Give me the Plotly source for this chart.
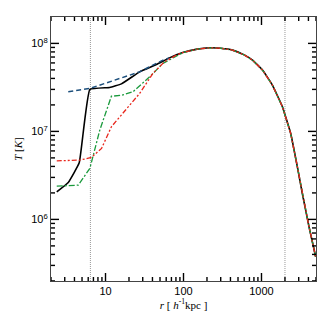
import math
import plotly.graph_objects as go

# Shared outer profile (all runs coincide beyond ~100 h^-1 kpc)
tail_r = [100, 150, 215, 300, 427, 600, 767, 1030, 1380, 1854, 2370, 2884, 3340, 4070, 4950]
tail_T = [7.91e7, 8.61e7, 8.91e7, 8.81e7, 8.39e7, 7.41e7, 6.46e7, 4.98e7, 3.36e7,
          1.91e7, 9.48e6, 3.96e6, 1.97e6, 8.24e5, 3.76e5]

# Inner parts of each run
black_r = [2.37, 3.33, 4.6, 6.3, 11.3, 16, 27.4, 45, 66]
black_T = [2.06e6, 2.63e6, 4.40e6, 3.00e7, 3.16e7, 3.47e7, 4.75e7, 5.75e7, 6.85e7]

blue_r = [3.33, 6.3, 27.4, 54.5, 66]
blue_T = [2.82e7, 3.08e7, 4.75e7, 6.46e7, 6.85e7]

green_r = [2.37, 4.47, 6.3, 8.46, 11.9, 16, 22.5, 36.8, 54.5, 80]
green_T = [2.39e6, 2.45e6, 3.80e6, 1.04e7, 2.51e7, 2.57e7, 2.82e7, 4.17e7, 5.93e7, 7.16e7]

red_r = [2.37, 4.7, 6.6, 8.9, 11.9, 18.5, 27.4, 40.6, 57, 80.7]
red_T = [4.63e6, 4.72e6, 5.06e6, 6.41e6, 1.13e7, 1.82e7, 2.70e7, 4.57e7, 6.17e7, 7.36e7]

vline_r = [6.4, 2000]

x_range = [2, 5000]
y_range = [10**5.3, 10**8.3]

x_major = [10, 100, 1000]
x_major_text = ["10", "100", "1000"]
y_major = [1e6, 1e7, 1e8]
y_major_text = ["10<sup>6</sup>", "10<sup>7</sup>", "10<sup>8</sup>"]

x_minor = [m * 10**e for e in range(0, 4) for m in range(2, 10)
           if x_range[0] <= m * 10**e <= x_range[1]]
y_minor = [m * 10**e for e in range(5, 9) for m in range(2, 10)
           if y_range[0] <= m * 10**e <= y_range[1]]

W, H = 327, 316
M = dict(l=51, r=11, t=17, b=35)
plot_w = W - M["l"] - M["r"]
plot_h = H - M["t"] - M["b"]
MAJOR_LEN, MINOR_LEN = 8, 4
TICK_COLOR = "#000000"

fig = go.Figure()
fig.add_trace(go.Scatter(x=black_r + tail_r, y=black_T + tail_T, mode="lines",
                         line=dict(color="black", width=1.6, shape="spline", smoothing=0.3),
                         showlegend=False))
fig.add_trace(go.Scatter(x=blue_r, y=blue_T, mode="lines",
                         line=dict(color="#1c4f7c", width=1.5, dash="5px,3px"), showlegend=False))
fig.add_trace(go.Scatter(x=green_r + tail_r, y=green_T + tail_T, mode="lines",
                         line=dict(color="#1a9a3c", width=1.3, dash="6px,2px,2px,2px"),
                         showlegend=False))
fig.add_trace(go.Scatter(x=red_r + tail_r, y=red_T + tail_T, mode="lines",
                         line=dict(color="#e8261c", width=1.3, dash="5px,2px,2px,2px,2px,2px"),
                         showlegend=False))

for xv in vline_r:
    fig.add_shape(type="line", xref="x", yref="paper", x0=xv, x1=xv, y0=0, y1=1,
                  line=dict(color="#999999", width=1, dash="1px,1px"), layer="below")

# inward ticks on all four sides (axis decoration)
def xticks(vals, length):
    f = length / plot_h
    for v in vals:
        for y0, y1 in ((0, f), (1 - f, 1)):
            fig.add_shape(type="line", xref="x", yref="paper", x0=v, x1=v, y0=y0, y1=y1,
                          line=dict(color=TICK_COLOR, width=1.4))

def yticks(vals, length):
    f = length / plot_w
    for v in vals:
        for x0, x1 in ((0, f), (1 - f, 1)):
            fig.add_shape(type="line", xref="paper", yref="y", x0=x0, x1=x1, y0=v, y1=v,
                          line=dict(color=TICK_COLOR, width=1.4))

xticks(x_major, MAJOR_LEN)
xticks(x_minor, MINOR_LEN)
yticks(y_major, MAJOR_LEN)
yticks(y_minor, MINOR_LEN)

xr = [math.log10(x_range[0]), math.log10(x_range[1])]
yr = [math.log10(y_range[0]), math.log10(y_range[1])]

tickfont = dict(family="Liberation Sans, Arial, sans-serif", size=11, color="black")
titlefont = dict(family="Liberation Serif, Times New Roman, serif", size=11, color="black")

base = dict(type="log", showgrid=False, zeroline=False, automargin=False,
            showline=True, linecolor="#444444", linewidth=1.2, mirror=True, ticks="")

fig.update_layout(
    width=W, height=H, margin=M,
    paper_bgcolor="white", plot_bgcolor="white",
    xaxis=dict(**base, range=xr, tickmode="array", tickvals=x_major, ticktext=x_major_text,
               tickfont=tickfont,
               title=dict(text="<i>r</i> [ <i>h</i><sup>-1</sup>kpc ]", standoff=2, font=titlefont)),
    yaxis=dict(**base, range=yr, tickmode="array", tickvals=y_major, ticktext=y_major_text,
               tickfont=tickfont,
               title=dict(text="<i>T</i> [<i>K</i>]", standoff=6, font=titlefont)),
)

fig.write_html("out.html", config={"displayModeBar": False},
               post_script="document.body.style.margin='0px';document.body.style.padding='0px';")
